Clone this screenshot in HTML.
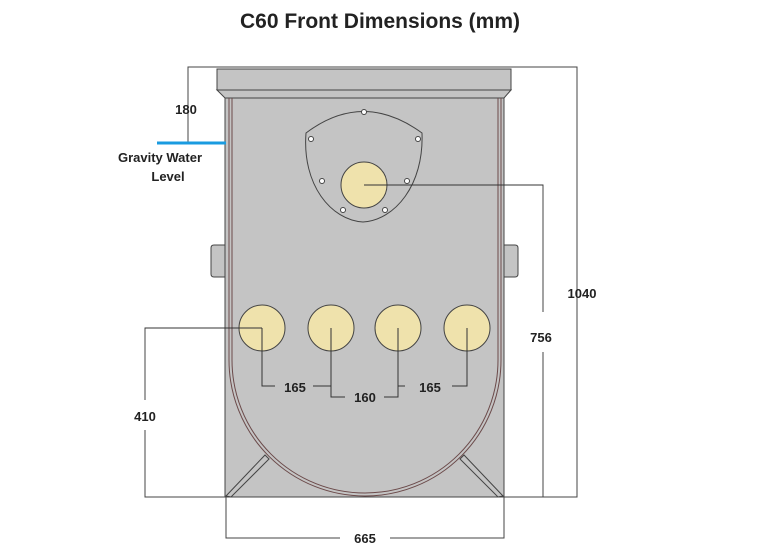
<!DOCTYPE html>
<html><head><style>body{margin:0;background:#fff}svg{display:block}text{font-family:"Liberation Sans",sans-serif;font-weight:bold;fill:#222}</style></head><body>
<svg width="760" height="550" viewBox="0 0 760 550">
<text x="380" y="28" font-size="21" text-anchor="middle" fill="#111">C60 Front Dimensions (mm)</text>
<g stroke="#444" stroke-width="1" fill="none">
<polyline points="188,143 188,67 577,67 577,497 504,497"/>
<polyline points="363,185 543,185 543,312"/>
<polyline points="543,352 543,497 504,497"/>
<polyline points="262,328 145,328 145,400"/>
<polyline points="145,430 145,497 226,497"/>
<polyline points="226,497 226,538 340,538"/>
<polyline points="390,538 504,538 504,497"/>
</g>
<g fill="#c4c4c4" stroke="#444">
<path d="M225,245 H214 Q211,245 211,248 V274 Q211,277 214,277 H225 Z"/>
<path d="M504,245 H515 Q518,245 518,248 V274 Q518,277 515,277 H504 Z"/>
<rect x="225" y="96" width="279" height="401"/>
<path d="M217,90 H511 L504,98 H225 Z"/>
<rect x="217" y="69" width="294" height="21"/>
</g>
<g fill="none" stroke="#6b4a4a" stroke-width="1">
<path d="M229,98 V360 A136,136 0 0 0 501,360 V98"/>
<path d="M232,98 V360 A133,133 0 0 0 498,360 V98"/>
</g>
<g fill="#c4c4c4" stroke="#444" stroke-width="1">
<path d="M226,496 L265,455 L269,459 L231,497 Z"/>
<path d="M503,496 L464,455 L460,459 L498,497 Z"/>
</g>
<path d="M306,133 Q363,90 422,133 C424,185 395,220 363,222 C331,220 302,185 306,133 Z" fill="#c4c4c4" stroke="#444"/>
<g fill="#fff" stroke="#444" stroke-width="1">
<circle cx="364" cy="112" r="2.5"/><circle cx="311" cy="139" r="2.5"/><circle cx="418" cy="139" r="2.5"/>
<circle cx="322" cy="181" r="2.5"/><circle cx="407" cy="181" r="2.5"/>
<circle cx="343" cy="210" r="2.5"/><circle cx="385" cy="210" r="2.5"/>
</g>
<g fill="#efe2ac" stroke="#444">
<circle cx="364" cy="185" r="23"/>
<circle cx="262" cy="328" r="23"/><circle cx="331" cy="328" r="23"/><circle cx="398" cy="328" r="23"/><circle cx="467" cy="328" r="23"/>
</g>
<g stroke="#333" fill="none">
<line x1="364" y1="185" x2="543" y2="185"/>
<line x1="145" y1="328" x2="262" y2="328"/>
<polyline points="262,328 262,386 275,386"/>
<polyline points="313,386 331,386 331,328"/>
<polyline points="331,386 331,397 345,397"/>
<polyline points="384,397 398,397 398,328"/>
<polyline points="398,386 405,386"/>
<polyline points="452,386 467,386 467,328"/>
</g>
<line x1="157" y1="143" x2="226" y2="143" stroke="#1a9be0" stroke-width="3"/>
<g font-size="13" text-anchor="middle">
<text x="186" y="114">180</text>
<text x="160" y="162">Gravity Water</text>
<text x="168" y="181">Level</text>
<text x="582" y="298">1040</text>
<text x="541" y="342">756</text>
<text x="145" y="421">410</text>
<text x="295" y="392">165</text>
<text x="365" y="402">160</text>
<text x="430" y="392">165</text>
<text x="365" y="543">665</text>
</g>
</svg>
</body></html>
